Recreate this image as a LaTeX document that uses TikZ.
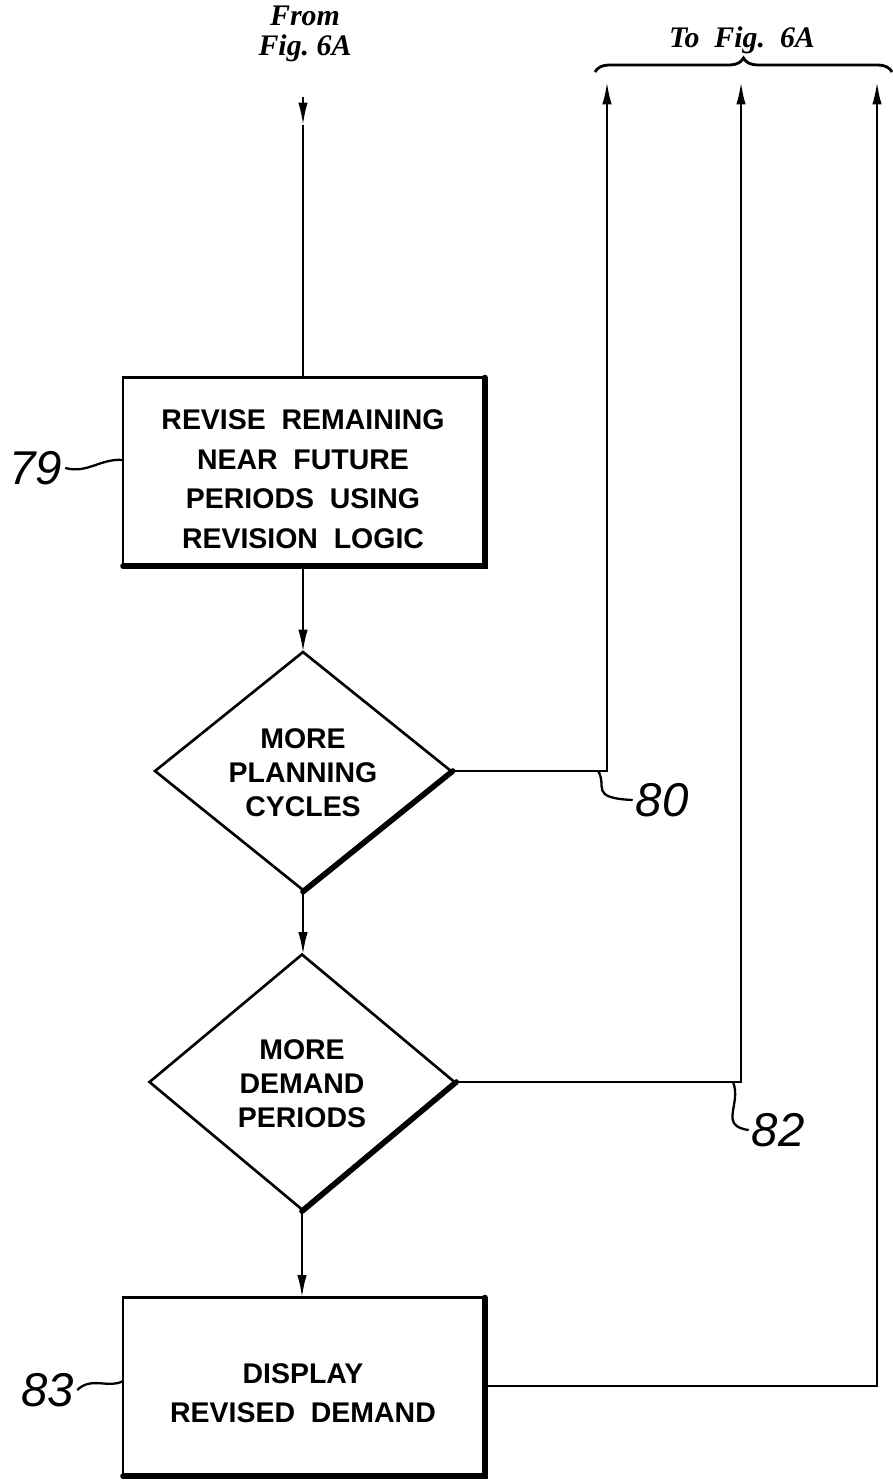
\documentclass[tikz,border=0pt]{standalone}
\usepackage{fontspec}
\setmainfont{Liberation Serif}
\setsansfont{Liberation Sans}
\usetikzlibrary{arrows.meta,shapes.geometric,decorations.pathreplacing}
\newcommand{\lowtext}[2]{\raisebox{-#1}[\height][\depth]{\begin{tabular}{@{}c@{}}#2\end{tabular}}}
\newcommand{\flattext}[2]{\raisebox{-#1}[0pt][0pt]{\begin{tabular}{@{}c@{}}#2\end{tabular}}}
\begin{document}
\begin{tikzpicture}[x=0.02cm,y=-0.02cm,
  line width=1.3pt,
  procbox/.style={draw, rectangle, line width=1.5pt, minimum width=7.2cm, inner sep=0pt, outer sep=0pt,
    font=\sffamily\bfseries\fontsize{16.2}{22.5}\selectfont, align=center},
  decbox/.style={draw, diamond, line width=1.5pt, inner sep=0pt, outer sep=0pt,
    font=\sffamily\bfseries\fontsize{16.2}{19.4}\selectfont, align=center},
  reflabel/.style={font=\sffamily\itshape\fontsize{27}{30}\selectfont, inner sep=1pt},
  hdrtext/.style={font=\rmfamily\bfseries\itshape\fontsize{17}{17}\selectfont, align=center},
  arr/.style={-{Latex[length=0.45cm,width=0.19cm]}},
  shade/.style={line width=3.2pt, line cap=round},
]
\useasboundingbox (0,0) rectangle (892,1483);

% nodes
\node[procbox, minimum height=3.74cm] (b79) at (303,471)
  {\lowtext{0.2cm}{REVISE\ \ REMAINING\\NEAR\ \ FUTURE\\PERIODS\ \ USING\\REVISION\ \ LOGIC}};
\node[decbox, minimum width=5.92cm, minimum height=4.76cm] (d80) at (303,771)
  {\flattext{0.24cm}{MORE\\PLANNING\\CYCLES}};
\node[decbox, minimum width=6.1cm, minimum height=5.1cm] (d82) at (302,1082)
  {\flattext{0.24cm}{MORE\\DEMAND\\PERIODS}};
\node[procbox, minimum height=3.54cm] (b83) at (303,1386)
  {\lowtext{0.18cm}{DISPLAY\\REVISED\ \ DEMAND}};

% shadows
\draw[shade] ([xshift=1pt]b79.north east) -- ([xshift=1pt,yshift=-1pt]b79.south east) -- ([yshift=-1pt]b79.south west);
\draw[shade] ([xshift=1pt]d80.east) -- ([yshift=-1pt]d80.south);
\draw[shade] ([xshift=1pt]d82.east) -- ([yshift=-1pt]d82.south);
\draw[shade] ([xshift=1pt]b83.north east) -- ([xshift=1pt,yshift=-1pt]b83.south east) -- ([yshift=-1pt]b83.south west);

% header texts
\node[hdrtext] (from) at (305,34) {From\\Fig.\ 6A};
\node[hdrtext] (to) at (742,40) {To\ \ Fig.\ \ 6A};
\draw[decorate, decoration={brace, amplitude=0.28cm}, line width=1.6pt]
  (595,72) -- (892,72);

% main flow
\coordinate (topstart) at (303,97);
\coordinate (topmid) at (303,125);
\draw[arr] (topstart) -- (topmid);
\draw (topmid) -- (b79.north);
\draw[arr] (b79.south) -- (d80.north);
\draw[arr] (d80.south) -- (d80.south |- d82.north);
\draw[arr] (d82.south) -- (d82.south |- b83.north);

% returns to Fig. 6A
\coordinate (t80) at (607,82);
\coordinate (t82) at (741,82);
\coordinate (t83) at (877,82);
\draw[arr] (d80.east) -| (t80);
\draw[arr] (d82.east) -| (t82);
\draw[arr] (b83.east) -| (t83);

% reference labels
\node[reflabel] (l79) at (36,468) {79};
\draw (l79.east) .. controls +(22,6) and +(-22,-2) .. ([yshift=0.22cm]b79.west);

\node[reflabel] (l80) at (662,800) {80};
\coordinate (c80) at (598,771);
\draw (c80) .. controls (608,786) and (588,798) .. (l80.west);

\node[reflabel] (l82) at (778,1130) {82};
\coordinate (c82) at (733,1082);
\draw (c82) .. controls (742,1104) and (718,1126) .. (l82.west);

\node[reflabel] (l83) at (48,1390) {83};
\draw (l83.east) .. controls +(14,-14) and +(-14,8) .. ([yshift=0.1cm]b83.west);
\end{tikzpicture}
\end{document}
